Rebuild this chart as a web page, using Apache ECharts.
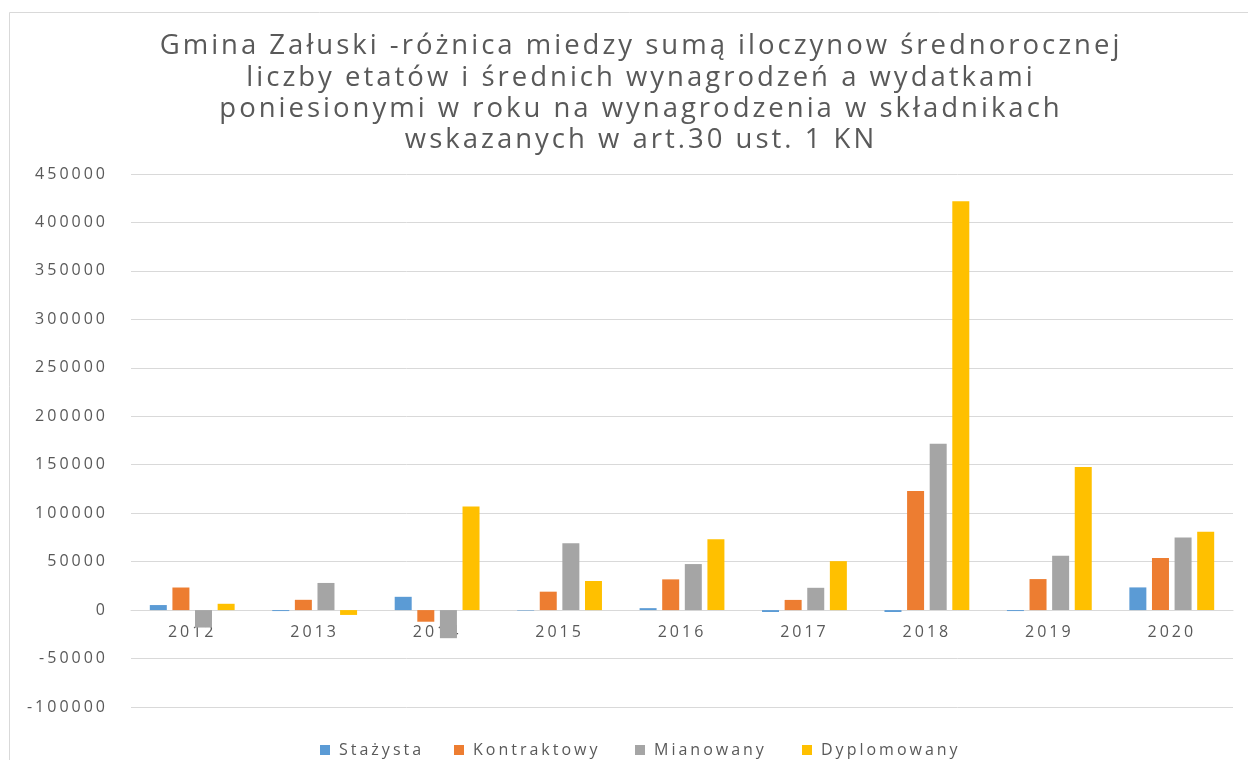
<!DOCTYPE html>
<html>
<head>
<meta charset="utf-8">
<script src="https://cdn.jsdelivr.net/npm/echarts@6/dist/echarts.min.js"></script>
<style>
  html, body { margin: 0; padding: 0; background: #fff; }
  #main { width: 1248px; height: 760px; }
</style>
</head>
<body>
<div id="main"></div>
<script>
var years = ['2012', '2013', '2014', '2015', '2016', '2017', '2018', '2019', '2020'];
var stazysta = [5200, -1000, 13700, -500, 2000, -2000, -2000, -1000, 23400];
var kontraktowy = [23300, 10600, -12000, 19000, 31700, 10500, 123000, 32000, 53700];
var mianowany = [-18000, 28000, -29000, 69000, 47500, 23000, 171700, 56000, 75000];
var dyplomowany = [6500, -5000, 107000, 30000, 73000, 50500, 422000, 147600, 80800];
var seriesNames = ['Stażysta', 'Kontraktowy', 'Mianowany', 'Dyplomowany'];
var yTicks = [-100000, 450000, 50000]; // min, max, interval

var chartDom = document.getElementById('main');
var myChart = echarts.init(chartDom);

var txt = '#595959';
var font = '"Open Sans", sans-serif';

function bar(name, data, color) {
    return {
        name: name,
        type: 'bar',
        data: data,
        barWidth: 17,
        barGap: '33%',
        itemStyle: { color: color },
        emphasis: { disabled: true }
    };
}

// one legend per item so the spaced-out text doesn't overlap
var legendLeft = [315, 449, 630, 797];
var legends = seriesNames.map(function (n, i) {
    return {
        left: legendLeft[i],
        top: 737,
        itemWidth: 10,
        itemHeight: 10,
        icon: 'rect',
        textStyle: { color: txt, fontSize: 16, fontFamily: font, padding: [0, 0, 0, 4] },
        data: [n]
    };
});

var option = {
    animation: false,
    backgroundColor: '#fff',
    textStyle: { fontFamily: font },
    graphic: [{
        type: 'rect',
        shape: { x: 9.5, y: 12.5, width: 1260, height: 800 },
        style: { fill: 'none', stroke: '#d9d9d9', lineWidth: 1 },
        silent: true
    }],
    title: {
        text: 'Gmina Załuski -różnica miedzy sumą iloczynow średnorocznej\nliczby etatów i średnich wynagrodzeń a wydatkami\nponiesionymi w roku na wynagrodzenia w składnikach\nwskazanych w art.30 ust. 1 KN',
        left: 636,
        textAlign: 'center',
        top: 26,
        textStyle: {
            color: txt,
            fontFamily: font,
            fontWeight: 'normal',
            fontSize: 27.5,
            lineHeight: 31.3
        }
    },
    legend: legends,
    grid: {
        left: 131,
        right: 15,
        top: 174,
        bottom: 53,
        containLabel: false
    },
    xAxis: [{
        type: 'category',
        data: years,
        axisLine: { onZero: true, lineStyle: { color: '#d9d9d9' } },
        axisTick: { show: false },
        axisLabel: { show: false }
    }, {
        // labels sit just under the zero line
        type: 'category',
        data: years,
        position: 'bottom',
        offset: -97,
        axisLine: { show: false },
        axisTick: { show: false },
        splitLine: { show: false },
        axisLabel: { color: txt, fontSize: 16, margin: 14, fontFamily: font }
    }],
    yAxis: {
        type: 'value',
        min: yTicks[0],
        max: yTicks[1],
        interval: yTicks[2],
        axisLine: { show: false },
        axisTick: { show: false },
        axisLabel: {
            color: txt, fontSize: 16, margin: 23, fontFamily: font,
            formatter: function (v) { return String(v); }
        },
        splitLine: { lineStyle: { color: '#d9d9d9', width: 1 } }
    },
    series: [
        bar(seriesNames[0], stazysta, '#5b9bd5'),
        bar(seriesNames[1], kontraktowy, '#ed7d31'),
        bar(seriesNames[2], mianowany, '#a5a5a5'),
        bar(seriesNames[3], dyplomowany, '#ffc000')
    ]
};

option && myChart.setOption(option);

// spaced-out lettering like the original, then draw again
chartDom.querySelectorAll('canvas').forEach(function (c) {
    var ctx = c.getContext('2d');
    if ('letterSpacing' in ctx) ctx.letterSpacing = '3px';
});
myChart.clear();
myChart.setOption(option);
</script>
</body>
</html>
